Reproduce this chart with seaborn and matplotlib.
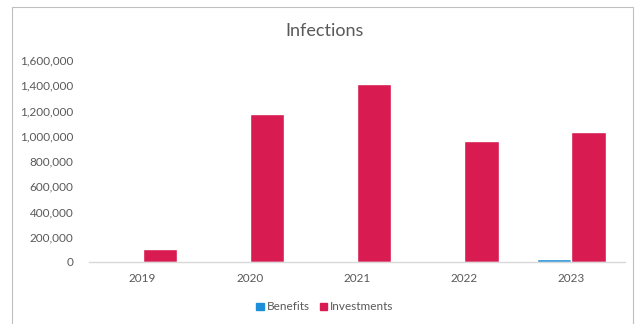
import matplotlib
matplotlib.use("Agg")
import matplotlib.pyplot as plt
import matplotlib.patches as mpatches
from matplotlib.ticker import FuncFormatter
import seaborn as sns
import pandas as pd

years = ["2019", "2020", "2021", "2022", "2023"]
benefits = [0, 0, 0, 0, 22000]
investments = [105000, 1172000, 1410000, 958000, 1030000]
series_names = ["Benefits", "Investments"]
colors = {"Benefits": "#1C8FD8", "Investments": "#D81B50"}

df = pd.DataFrame({
    "Year": years * 2,
    "Value": benefits + investments,
    "Series": [series_names[0]] * len(years) + [series_names[1]] * len(years),
})

sns.set_theme(style="white")
plt.rcParams["font.family"] = ["Lato", "DejaVu Sans"]

fig = plt.figure(figsize=(6.42, 3.24), dpi=100)
ax = fig.add_axes([89 / 642, 1 - 262 / 324, (625 - 89) / 642, (262 - 60) / 324])

sns.barplot(data=df, x="Year", y="Value", hue="Series", palette=colors,
            width=0.64, ax=ax, saturation=1, legend=True)

ax.set_xlim(-0.5, 4.5)
ax.set_ylim(0, 1600000)
ax.set_yticks(range(0, 1600001, 200000))
ax.yaxis.set_major_formatter(FuncFormatter(lambda v, p: f"{int(v):,}"))
ax.set_xlabel("")
ax.set_ylabel("")
for s in ["top", "right", "left"]:
    ax.spines[s].set_visible(False)
ax.spines["bottom"].set_color("#D9D9D9")
ax.spines["bottom"].set_linewidth(1)
ax.tick_params(axis="both", length=0, labelsize=8.5, colors="#595959")
ax.tick_params(axis="y", pad=11)
ax.tick_params(axis="x", pad=8)

fig.text(325 / 642, 1 - 31 / 324, "Infections", ha="center", va="center",
         fontsize=13, color="#595959")

handles = [mpatches.Patch(color=colors[n], label=n) for n in series_names]
ax.legend_.remove()
fig.legend(handles=handles, loc="center", bbox_to_anchor=(325 / 642, 1 - 307 / 324),
           ncol=2, frameon=False, fontsize=8.5, handlelength=0.6, handleheight=0.6,
           handletextpad=0.3, columnspacing=0.8, labelcolor="#595959")

border = mpatches.Rectangle((12 / 642, -0.05), (633 - 12) / 642, 1 - 7 / 324 + 0.05,
                            transform=fig.transFigure, fill=False,
                            edgecolor="#BFBFBF", linewidth=0.8)
fig.patches.append(border)

fig.savefig("out.png", dpi=100)
